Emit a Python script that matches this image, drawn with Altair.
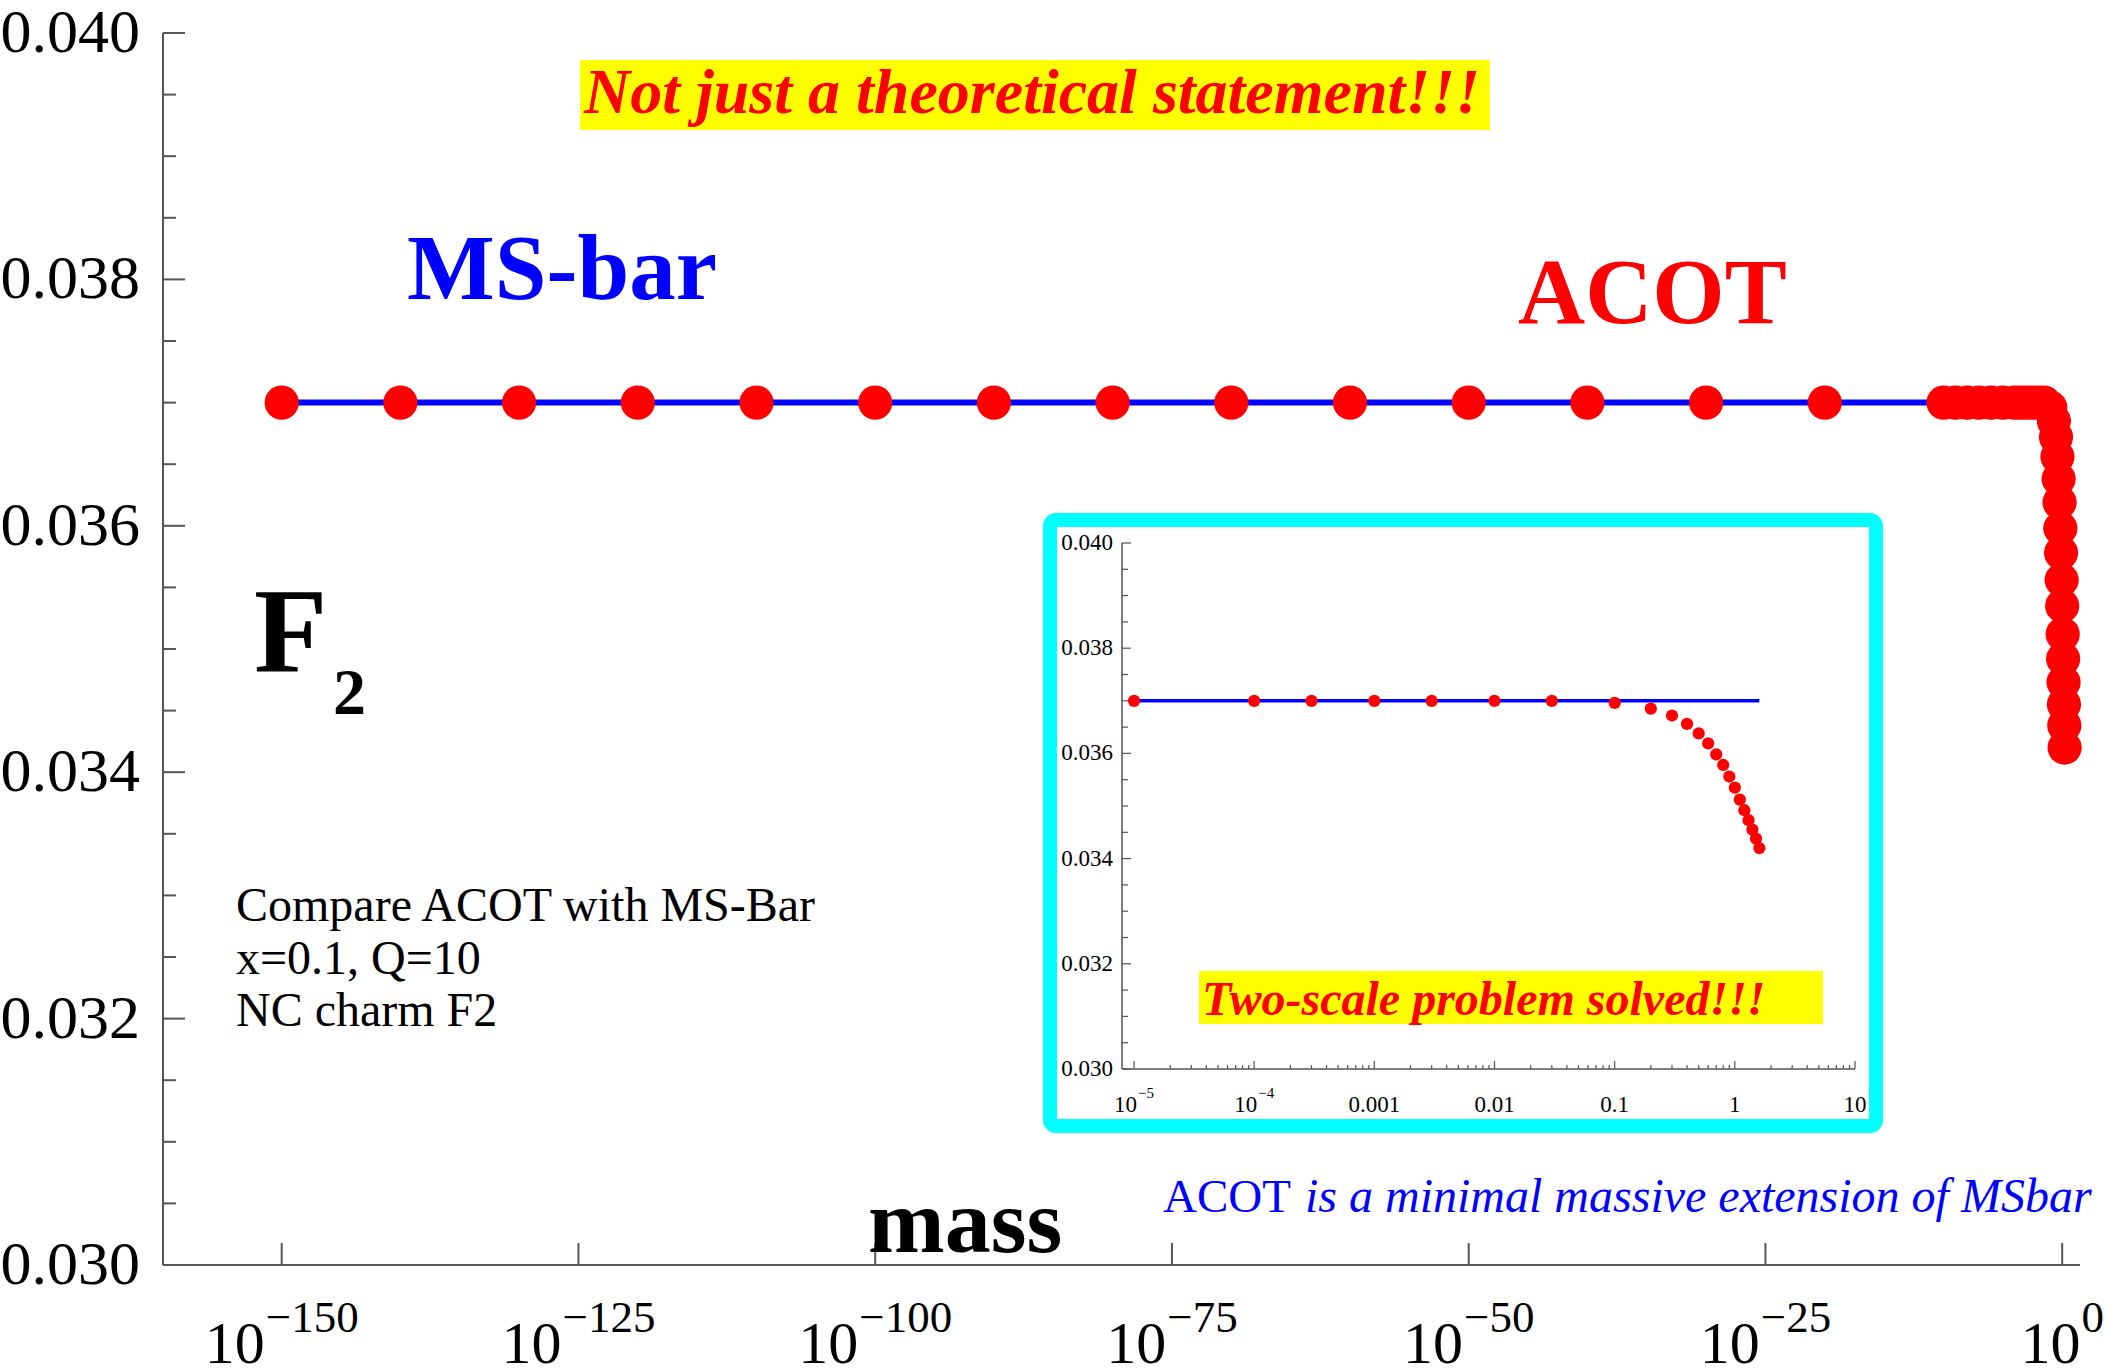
import math
import altair as alt
import pandas as pd

# ------------------------------------------------------------------ data
# ACOT points far below the charm mass (log10 of the mass) and their F2
far_log_mass = [-150, -140, -130, -120, -110, -100, -90, -80, -70, -60,
                -50, -40, -30, -20, -10, -9, -8, -7, -6]
far_f2 = [0.0370, 0.0370, 0.0370, 0.0370, 0.0370, 0.0370, 0.0370, 0.0370,
          0.0370, 0.0370, 0.0370, 0.0370, 0.0370, 0.0370, 0.0370, 0.0370,
          0.0370, 0.0370, 0.0370]

# ACOT points near the physical scale (mass values) and their F2
near_mass = [1e-5, 1e-4, 3e-4, 0.001, 0.003, 0.01, 0.03, 0.1, 0.2, 0.3, 0.4,
             0.5, 0.6, 0.7, 0.8, 0.9, 1.0, 1.1, 1.2, 1.3, 1.4, 1.5, 1.6]
near_f2 = [0.0370, 0.0370, 0.0370, 0.0370, 0.0370, 0.0370, 0.0370, 0.03696,
           0.03685, 0.03672, 0.03656, 0.03638, 0.03619, 0.03598, 0.03578,
           0.03556, 0.03535, 0.03512, 0.03492, 0.03473, 0.03455, 0.03438,
           0.03420]

# MS-bar (massless) result
msbar_log_mass = [-150, 0.2]
msbar_mass = [1e-5, 1.6]
msbar_f2 = [0.0370, 0.0370]

# axis tick values / labels
y_major = [0.030, 0.032, 0.034, 0.036, 0.038, 0.040]
y_major_labels = ["0.030", "0.032", "0.034", "0.036", "0.038", "0.040"]
y_minor = [0.0305, 0.031, 0.0315, 0.0325, 0.033, 0.0335, 0.0345, 0.035,
           0.0355, 0.0365, 0.037, 0.0375, 0.0385, 0.039, 0.0395]
x_major_exp = [-150, -125, -100, -75, -50, -25, 0]
x_major_base = ["10", "10", "10", "10", "10", "10", "10"]
x_major_exp_labels = ["\u2212150", "\u2212125", "\u2212100", "\u221275",
                      "\u221250", "\u221225", "0"]
in_x_major = [1e-5, 1e-4, 0.001, 0.01, 0.1, 1, 10]
in_x_base = ["10", "10", "0.001", "0.01", "0.1", "1", "10"]
in_x_exp = ["\u22125", "\u22124", "", "", "", "", ""]
in_x_minor_mult = [2, 3, 4, 5, 6, 7, 8, 9]
in_decades = [1e-5, 1e-4, 0.001, 0.01, 0.1, 1]

# ------------------------------------------------------------------ layout
W, H = 1917, 1232
SERIF = "Liberation Serif"
RED, BLUE, CYAN, YELLOW = "#FF0000", "#0000FF", "#00FFFF", "#FFFF00"
AXC = "#555555"

MAIN_DOM = [-160, 1.5]
IN_DOM = [10 ** -5.1, 10]
IN_RANGE = [959, 1692]
PX_PER_UNIT = W / (MAIN_DOM[1] - MAIN_DOM[0])
PX_PER_DECADE = (IN_RANGE[1] - IN_RANGE[0]) / (math.log10(IN_DOM[1]) - math.log10(IN_DOM[0]))

xs_main = alt.Scale(domain=MAIN_DOM, nice=False, zero=False)
ys_main = alt.Scale(domain=[0.030, 0.040], nice=False, zero=False)
xs_in = alt.Scale(type="log", domain=IN_DOM, range=IN_RANGE, nice=False)
ys_in = alt.Scale(domain=[0.030, 0.040], range=[1036, 510], nice=False, zero=False)

one = pd.DataFrame({"a": [0]})


def xm(f):
    return alt.X(f, scale=xs_main, axis=None)


def ym(f):
    return alt.Y(f, scale=ys_main, axis=None)


def xi(f):
    return alt.X(f, scale=xs_in, axis=None)


def yi(f):
    return alt.Y(f, scale=ys_in, axis=None)


def label(text, x, y, size, color="black", weight="normal", style="normal", align="left"):
    return alt.Chart(one).mark_text(
        text=text, font=SERIF, fontSize=size, fontWeight=weight, fontStyle=style,
        color=color, align=align, baseline="alphabetic"
    ).encode(x=alt.value(x), y=alt.value(y))


def rule_px(x, x2, y, y2, color=AXC, width=2):
    return alt.Chart(one).mark_rule(color=color, strokeWidth=width).encode(
        x=alt.value(x), x2=alt.value(x2), y=alt.value(y), y2=alt.value(y2))


def power_labels(df, xfun, shift, base_size, exp_size, base_y, exp_y):
    """Base and superscript text marks, centred together on the tick.
    shift(o) is a Vega expression moving datum.v by o pixels along the scale."""
    bw = (f"{base_size*0.5}*length(replace(datum.b,'.',''))"
          f"+{base_size*0.25}*(length(datum.b)-length(replace(datum.b,'.','')))")
    ew = (f"datum.e=='' ? 0 : (indexof(datum.e,'\u2212')>=0 ? "
          f"{exp_size*0.564}+{exp_size*0.5}*(length(datum.e)-1) : {exp_size*0.5}*length(datum.e))")
    base = (alt.Chart(df)
            .transform_calculate(bw=bw, ew=ew)
            .transform_calculate(gw="datum.bw + (datum.ew>0 ? 1 + datum.ew : 0)")
            .transform_calculate(off="-datum.gw/2", off2="-datum.gw/2 + datum.bw + 1")
            .transform_calculate(xb=shift("datum.off"), xe=shift("datum.off2")))
    t1 = base.mark_text(font=SERIF, fontSize=base_size, align="left",
                        baseline="alphabetic", color="black").encode(
        x=xfun("xb:Q"), y=alt.value(base_y), text="b:N")
    t2 = base.mark_text(font=SERIF, fontSize=exp_size, align="left",
                        baseline="alphabetic", color="black").encode(
        x=xfun("xe:Q"), y=alt.value(exp_y), text="e:N")
    return [t1, t2]


def shift_main(o):
    return f"datum.v + {o}/{PX_PER_UNIT}"


def shift_in(o):
    return f"datum.v * pow(10, {o}/{PX_PER_DECADE})"


# ------------------------------------------------------------------ main plot
acot_main = pd.DataFrame({
    "lm": far_log_mass + [math.log10(m) for m in near_mass],
    "f2": far_f2 + near_f2,
})
msbar_main = pd.DataFrame({"lm": msbar_log_mass, "f2": msbar_f2})

main_layers = [
    alt.Chart(one).mark_rect(color=YELLOW).encode(
        x=alt.value(417), x2=alt.value(1327), y=alt.value(27), y2=alt.value(97)),
    label("Not just a theoretical statement!!!", 869, 80, 64, RED, "bold", "italic", "center"),
    # axes
    rule_px(0, W, H, H),
    rule_px(0, 0, 0, H),
    alt.Chart(pd.DataFrame({"v": y_major})).mark_rule(color=AXC, strokeWidth=2).encode(
        y=ym("v:Q"), x=alt.value(0), x2=alt.value(22)),
    alt.Chart(pd.DataFrame({"v": y_minor})).mark_rule(color=AXC, strokeWidth=2).encode(
        y=ym("v:Q"), x=alt.value(0), x2=alt.value(13)),
    alt.Chart(pd.DataFrame({"v": x_major_exp})).mark_rule(color=AXC, strokeWidth=2).encode(
        x=xm("v:Q"), y=alt.value(H), y2=alt.value(H - 22)),
    alt.Chart(pd.DataFrame({"v": y_major, "lab": y_major_labels})).mark_text(
        font=SERIF, fontSize=62, align="right", baseline="middle", color="black").encode(
        y=ym("v:Q"), x=alt.value(-23), text="lab:N"),
] + power_labels(
    pd.DataFrame({"v": x_major_exp, "b": x_major_base, "e": x_major_exp_labels}),
    xm, shift_main, 60, 45, 1330, 1299
) + [
    # series
    alt.Chart(msbar_main).mark_line(color=BLUE, strokeWidth=6).encode(
        x=xm("lm:Q"), y=ym("f2:Q")),
    alt.Chart(acot_main).mark_circle(color=RED, size=1170, opacity=1).encode(
        x=xm("lm:Q"), y=ym("f2:Q")),
    # annotations
    label("MS-bar", 244, 266, 93, BLUE, "bold"),
    label("ACOT", 1355, 290, 93, RED, "bold"),
    label("F", 91, 639, 120, "black", "bold"),
    label("2", 170, 681, 66, "black", "bold"),
    label("Compare ACOT with MS-Bar", 73, 888, 48),
    label("x=0.1, Q=10", 73, 941, 48),
    label("NC charm F2", 73, 993, 48),
    label("mass", 705, 1219, 92, "black", "bold"),
    label("ACOT", 1000, 1179, 47, BLUE),
    label("is a minimal massive extension of MSbar", 1142, 1179, 48, BLUE, "normal", "italic"),
]
main = alt.layer(*main_layers)

# ------------------------------------------------------------------ inset plot
acot_in = pd.DataFrame({"m": near_mass, "f2": near_f2})
msbar_in = pd.DataFrame({"m": msbar_mass, "f2": msbar_f2})
in_minor = pd.DataFrame({"v": [k * d for d in in_decades for k in in_x_minor_mult]})
in_y_minor = pd.DataFrame({"v": y_minor})

inset_layers = [
    alt.Chart(one).mark_rect(filled=False, stroke=CYAN, strokeWidth=14, cornerRadius=6).encode(
        x=alt.value(887), x2=alt.value(1713), y=alt.value(487), y2=alt.value(1093)),
    rule_px(959, 1692, 1036, 1036, AXC, 1.5),
    rule_px(959, 959, 510, 1036, AXC, 1.5),
    alt.Chart(pd.DataFrame({"v": y_major})).mark_rule(color=AXC, strokeWidth=1.2).encode(
        y=yi("v:Q"), x=alt.value(959), x2=alt.value(968)),
    alt.Chart(in_y_minor).mark_rule(color=AXC, strokeWidth=1.2).encode(
        y=yi("v:Q"), x=alt.value(959), x2=alt.value(965)),
    alt.Chart(pd.DataFrame({"v": in_x_major})).mark_rule(color=AXC, strokeWidth=1.2).encode(
        x=xi("v:Q"), y=alt.value(1036), y2=alt.value(1028)),
    alt.Chart(in_minor).mark_rule(color=AXC, strokeWidth=1.2).encode(
        x=xi("v:Q"), y=alt.value(1036), y2=alt.value(1032)),
    alt.Chart(pd.DataFrame({"v": y_major, "lab": y_major_labels})).mark_text(
        font=SERIF, fontSize=23, align="right", baseline="middle", color="black").encode(
        y=yi("v:Q"), x=alt.value(950), text="lab:N"),
] + power_labels(
    pd.DataFrame({"v": in_x_major, "b": in_x_base, "e": in_x_exp}),
    xi, shift_in, 23, 15, 1079, 1065
) + [
    alt.Chart(one).mark_rect(color=YELLOW).encode(
        x=alt.value(1036), x2=alt.value(1660), y=alt.value(938), y2=alt.value(991)),
    label("Two-scale problem solved!!!", 1039, 982, 48, RED, "bold", "italic"),
    alt.Chart(msbar_in).mark_line(color=BLUE, strokeWidth=3.5).encode(
        x=xi("m:Q"), y=yi("f2:Q")),
    alt.Chart(acot_in).mark_circle(color=RED, size=150, opacity=1).encode(
        x=xi("m:Q"), y=yi("f2:Q")),
]
inset = alt.layer(*inset_layers)

chart = alt.layer(main, inset).resolve_scale(x="independent", y="independent").properties(
    width=W, height=H,
    padding={"left": 163, "top": 33, "right": 25, "bottom": 105},
    autosize=alt.AutoSizeParams(type="none"),
    background="white",
).configure_view(stroke=None)

chart.save("out.html", embed_options={"renderer": "svg", "actions": False})
